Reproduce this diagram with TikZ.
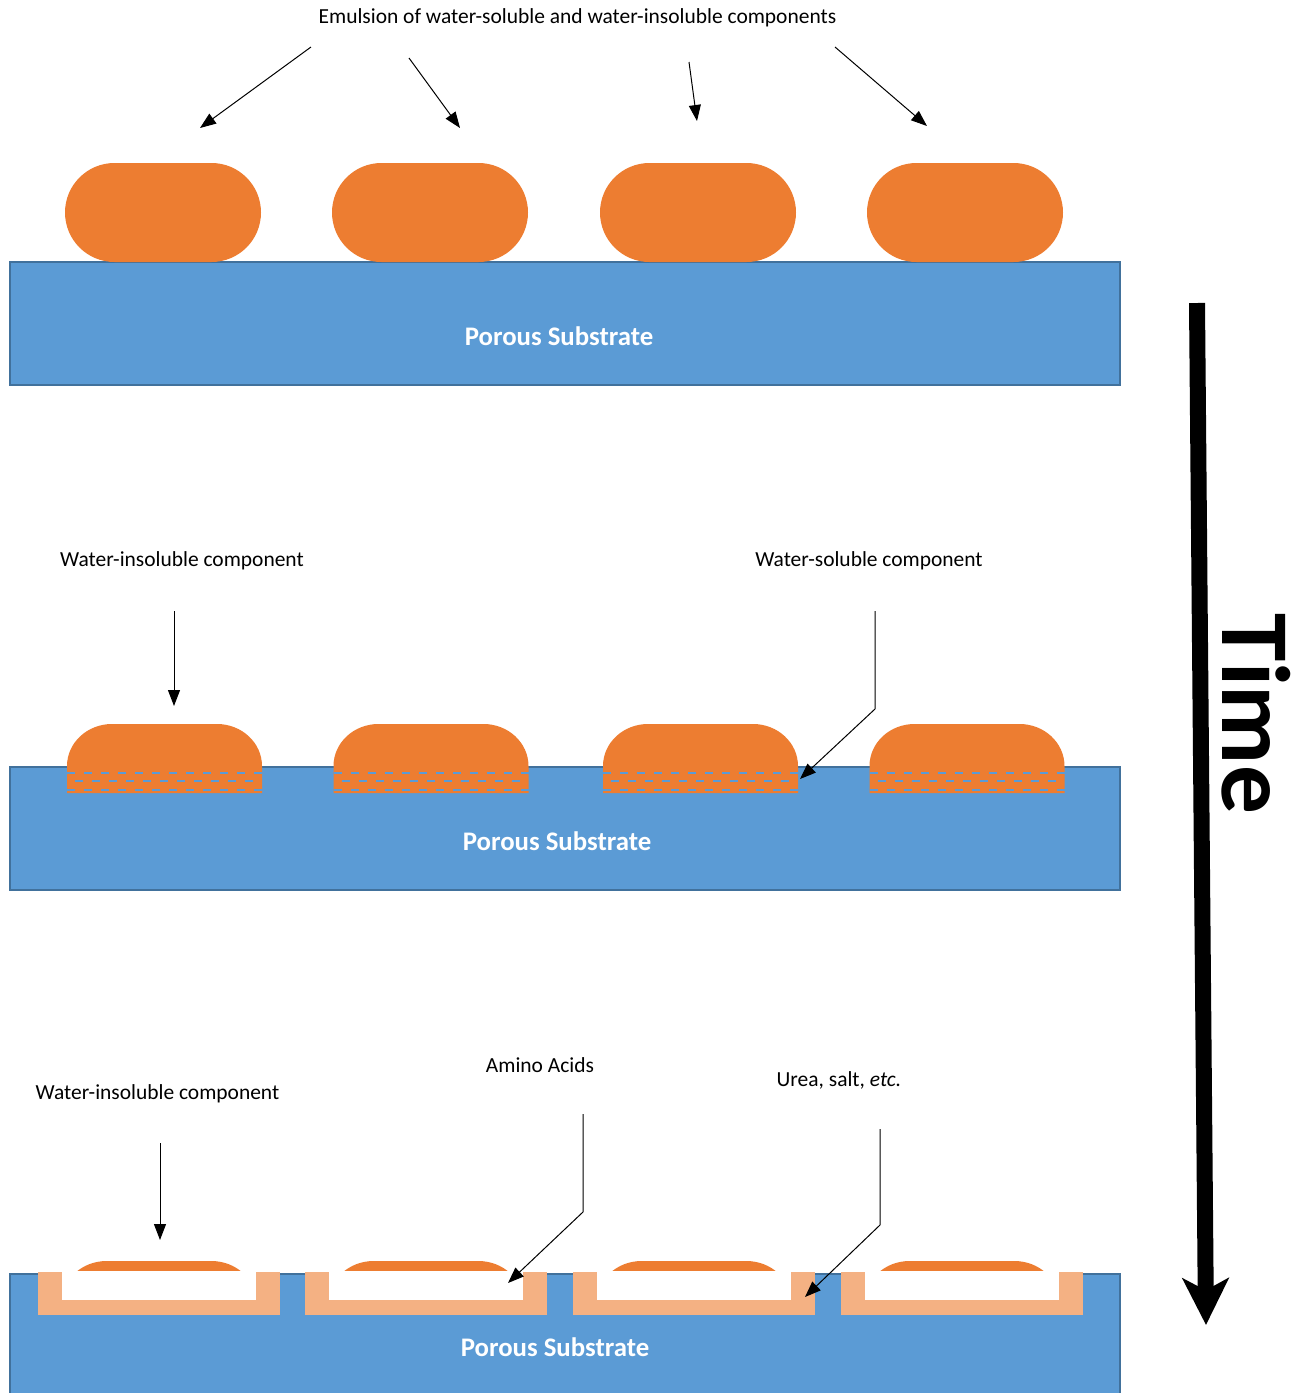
\documentclass[tikz,border=0pt]{standalone}
\usepackage{fontspec}
\setmainfont{Carlito}
\usetikzlibrary{arrows.meta,shapes.misc}
\definecolor{subfill}{HTML}{5B9BD5}
\definecolor{subedge}{HTML}{41719C}
\definecolor{dropc}{HTML}{ED7D31}
\definecolor{peach}{HTML}{F4B183}
\begin{document}
\begin{tikzpicture}[x=0.75pt,y=-0.75pt,
  substrate/.style={fill=subfill, draw=subedge, line width=1.5pt, anchor=north west, minimum width=832.5pt, inner sep=0pt},
  drop/.style={shape=rounded rectangle, fill=dropc, minimum width=147pt, minimum height=74.25pt, inner sep=0pt},
  lbl/.style={font=\fontsize{16.1}{19}\selectfont, inner sep=0pt},
  porous/.style={font=\fontsize{20.1}{24}\selectfont\bfseries, text=white, inner sep=0pt},
  ptr/.style={draw=black, line width=0.75pt, -{Triangle[length=12pt,width=9pt]}},
  dashrow/.style={draw=subfill, line width=1.8pt, dash pattern=on 6pt off 6.75pt},
  timearrow/.style={draw=black, line width=12pt, -{Stealth[length=35pt,width=34.5pt,inset=9pt]}}]
\useasboundingbox (0,0) rectangle (1306,1393);
\clip (0,0) rectangle (1306,1393);

% ---------- Panel 1 ----------
\node[substrate, minimum height=92.25pt] (sub1) at (9,261) {};
\node[porous] (p1) at (559,336) {Porous Substrate};
\node[drop] (d11) at (163,212.5) {};
\node[drop] (d12) at (430,212.5) {};
\node[drop] (d13) at (698,212.5) {};
\node[drop] (d14) at (965,212.5) {};
\node[lbl] (emul) at (577.5,18) {Emulsion of water-soluble and water-insoluble components};
\coordinate (a1s) at (311,47);  \coordinate (a1e) at (200,128);
\coordinate (a2s) at (409,58);  \coordinate (a2e) at (460,128);
\coordinate (a3s) at (689,62);  \coordinate (a3e) at (697,121);
\coordinate (a4s) at (835,47);  \coordinate (a4e) at (927,126);
\draw[ptr] (a1s) -- (a1e);
\draw[ptr] (a2s) -- (a2e);
\draw[ptr] (a3s) -- (a3e);
\draw[ptr] (a4s) -- (a4e);

% ---------- Panel 2 ----------
\node[substrate, minimum height=92.25pt] (sub2) at (9,766) {};
\node[porous] (p2) at (557,841) {Porous Substrate};
\foreach \c in {164.5,431,700.5,967} {
  \fill[dropc] (\c-97.5,793) -- (\c-97.5,766)
    arc[start angle=180,end angle=90,x radius=33.75pt,y radius=31.5pt]
    -- (\c+52.5,724)
    arc[start angle=90,end angle=0,x radius=33.75pt,y radius=31.5pt]
    -- (\c+97.5,793) -- cycle;
  \draw[dashrow] (\c-97.5,773) -- (\c+97.5,773);
  \draw[dashrow, dash phase=6.75pt] (\c-97.5,781) -- (\c+97.5,781);
  \draw[dashrow] (\c-97.5,790) -- (\c+97.5,790);
}
\node[lbl] (wi2) at (182,561) {Water-insoluble component};
\node[lbl] (ws2) at (869,561) {Water-soluble component};
\coordinate (b1s) at (174,611); \coordinate (b1e) at (174,706);
\coordinate (b2s) at (875,611); \coordinate (b2m) at (875,709); \coordinate (b2e) at (800,779);
\draw[ptr] (b1s) -- (b1e);
\draw[ptr] (b2s) -- (b2m) -- (b2e);

% ---------- Panel 3 ----------
\foreach \c in {159,426,694,962} {
  \fill[dropc] (\c-97.5,1303)
    arc[start angle=180,end angle=90,x radius=33.75pt,y radius=31.5pt]
    -- (\c+52.5,1261)
    arc[start angle=90,end angle=0,x radius=33.75pt,y radius=31.5pt]
    -- cycle;
}
\node[substrate, minimum height=100pt] (sub3) at (9,1273) {};
\foreach \l in {38,305,573,841} {
  \fill[peach] (\l,1272) rectangle (\l+242,1315);
  \fill[white] (\l+24,1271) rectangle (\l+218,1300);
}
\node[porous] (p3) at (555,1347) {Porous Substrate};
\node[lbl] (wi3) at (157.5,1094) {Water-insoluble component};
\node[lbl] (aa3) at (540,1065) {Amino Acids};
\node[lbl] (ur3) at (839,1080) {Urea, salt, \textit{etc.}};
\coordinate (c1s) at (160,1143); \coordinate (c1e) at (160,1240);
\coordinate (c2s) at (583,1114); \coordinate (c2m) at (583,1212); \coordinate (c2e) at (508,1283);
\coordinate (c3s) at (880,1129); \coordinate (c3m) at (880,1225); \coordinate (c3e) at (805,1297);
\draw[ptr] (c1s) -- (c1e);
\draw[ptr] (c2s) -- (c2m) -- (c2e);
\draw[ptr] (c3s) -- (c3m) -- (c3e);

% ---------- Time ----------
\coordinate (ts) at (1197,303);
\coordinate (te) at (1206,1325);
\draw[timearrow] (ts) -- (te);
\node[rotate=-90, font=\fontsize{73}{78}\selectfont\bfseries, inner sep=0pt] (time) at (1256,714) {Time};
\end{tikzpicture}
\end{document}
